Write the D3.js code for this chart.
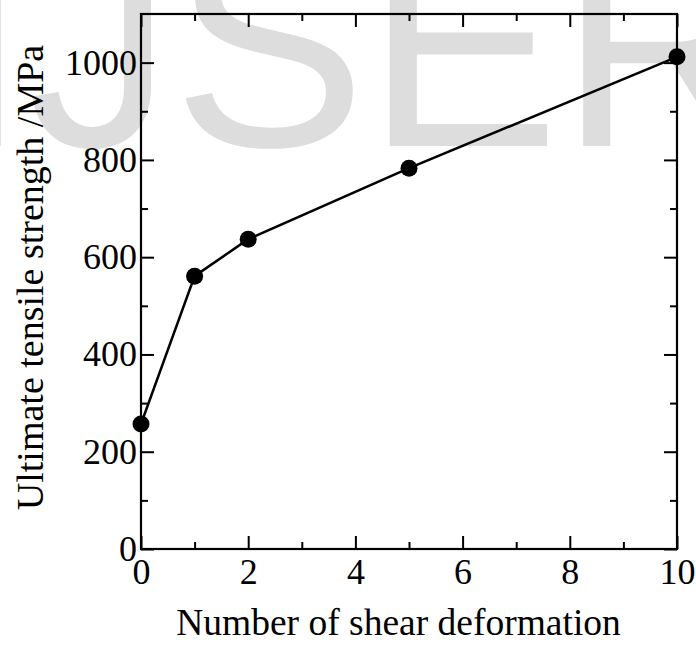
<!DOCTYPE html>
<html>
<head>
<meta charset="utf-8">
<script src="https://cdn.jsdelivr.net/npm/d3@7"></script>
<style>
  html, body { margin: 0; padding: 0; background: #fff; }
  svg { display: block; }
  .axis text { font-family: "Liberation Serif", "Times New Roman", serif; font-size: 36px; fill: #000; }
  .axis line { stroke: #000; stroke-width: 2; }
  .axis path { display: none; }
</style>
</head>
<body>
<svg id="chart" width="696" height="650"></svg>
<script>
// Data
const shearCounts = [0, 1, 2, 5, 10];
const tensileStrength = [257, 561, 637, 783, 1012];
const xMajorTicks = [0, 2, 4, 6, 8, 10];
const xMinorTicks = [1, 3, 5, 7, 9];
const yMajorTicks = [0, 200, 400, 600, 800, 1000];
const yMinorTicks = [100, 300, 500, 700, 900];
const xTitle = "Number of shear deformation";
const yTitle = "Ultimate tensile strength /MPa";
const watermark = "IJSER";

const svg = d3.select("#chart");
const W = 696, H = 650;
const m = { left: 141, right: 19, top: 14, bottom: 101 };
const pw = W - m.left - m.right, ph = H - m.top - m.bottom;

svg.append("rect").attr("width", W).attr("height", H).attr("fill", "#fff");

// Watermark
svg.append("text")
  .attr("x", -53).attr("y", 146)
  .attr("font-family", "'Liberation Sans', Arial, sans-serif")
  .attr("font-size", 290)
  .attr("fill", "#dddddd")
  .text(watermark);

const x = d3.scaleLinear().domain([0, 10]).range([0, pw]);
const y = d3.scaleLinear().domain([0, 1100]).range([ph, 0]);

const g = svg.append("g").attr("transform", `translate(${m.left},${m.top})`);

const MAJ = 13, MIN = 7;

// Bottom
g.append("g").attr("class", "axis").attr("transform", `translate(0,${ph})`)
  .call(d3.axisBottom(x).tickValues(xMajorTicks).tickSize(-MAJ).tickPadding(9).tickFormat(d3.format("d")));
g.append("g").attr("class", "axis").attr("transform", `translate(0,${ph})`)
  .call(d3.axisBottom(x).tickValues(xMinorTicks).tickSize(-MIN).tickFormat(""));
// Top
g.append("g").attr("class", "axis")
  .call(d3.axisTop(x).tickValues(xMajorTicks).tickSize(-MAJ).tickFormat(""));
g.append("g").attr("class", "axis")
  .call(d3.axisTop(x).tickValues(xMinorTicks).tickSize(-MIN).tickFormat(""));
// Left
g.append("g").attr("class", "axis")
  .call(d3.axisLeft(y).tickValues(yMajorTicks).tickSize(-MAJ).tickPadding(4).tickFormat(d3.format("d")));
g.append("g").attr("class", "axis")
  .call(d3.axisLeft(y).tickValues(yMinorTicks).tickSize(-MIN).tickFormat(""));
// Right
g.append("g").attr("class", "axis").attr("transform", `translate(${pw},0)`)
  .call(d3.axisRight(y).tickValues(yMajorTicks).tickSize(-MAJ).tickFormat(""));
g.append("g").attr("class", "axis").attr("transform", `translate(${pw},0)`)
  .call(d3.axisRight(y).tickValues(yMinorTicks).tickSize(-MIN).tickFormat(""));

// Frame
g.append("rect").attr("width", pw).attr("height", ph)
  .attr("fill", "none").attr("stroke", "#000").attr("stroke-width", 2.2);

// Line + markers
const pts = shearCounts.map((d, i) => [d, tensileStrength[i]]);
g.append("path").datum(pts)
  .attr("fill", "none").attr("stroke", "#000").attr("stroke-width", 2.5)
  .attr("d", d3.line().x(d => x(d[0])).y(d => y(d[1])));
g.selectAll("circle.pt").data(pts).enter().append("circle")
  .attr("class", "pt")
  .attr("cx", d => x(d[0])).attr("cy", d => y(d[1])).attr("r", 8.5)
  .attr("fill", "#000");

// Titles
svg.append("text")
  .attr("x", 398.5).attr("y", 635)
  .attr("text-anchor", "middle")
  .attr("font-family", "'Liberation Serif', 'Times New Roman', serif")
  .attr("font-size", 37.5)
  .text(xTitle);
svg.append("text")
  .attr("transform", "translate(43,277.5) rotate(-90)")
  .attr("text-anchor", "middle")
  .attr("font-family", "'Liberation Serif', 'Times New Roman', serif")
  .attr("font-size", 38)
  .text(yTitle);
</script>
</body>
</html>
